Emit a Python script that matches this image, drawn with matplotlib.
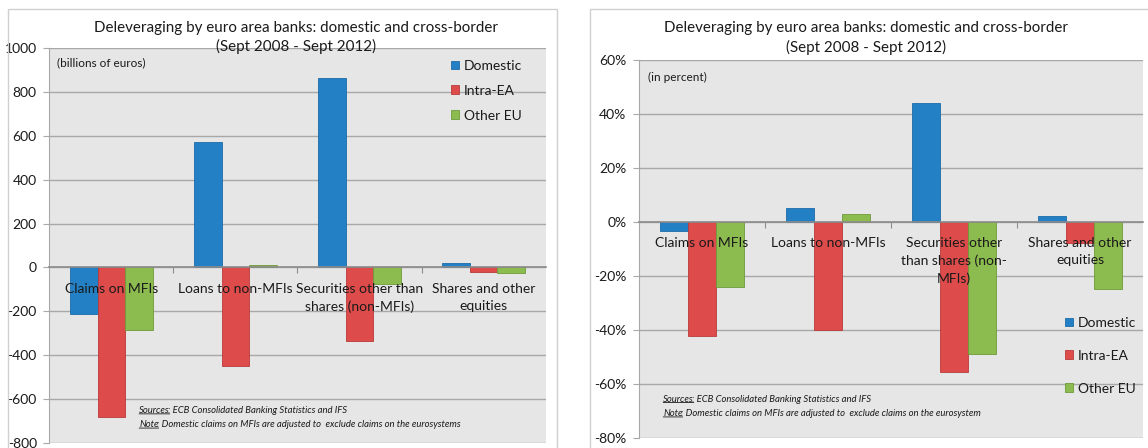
import matplotlib.pyplot as plt
import numpy as np
from matplotlib.patches import Rectangle
from matplotlib.ticker import FuncFormatter

plt.rcParams["font.family"] = ["Lato", "DejaVu Sans"]

# Deleveraging by euro area banks, Sept 2008 - Sept 2012
categories_bn = ["Claims on MFIs", "Loans to non-MFIs",
                 "Securities other than\nshares (non-MFIs)", "Shares and other\nequities"]
categories_pct = ["Claims on MFIs", "Loans to non-MFIs",
                  "Securities other\nthan shares (non-\nMFIs)", "Shares and other\nequities"]
series_names = ["Domestic", "Intra-EA", "Other EU"]

# billions of euros
domestic_bn = [-210, 570, 865, 20]
intra_ea_bn = [-680, -450, -335, -20]
other_eu_bn = [-285, 12, -75, -25]

# in percent
domestic_pct = [-3.3, 5, 44, 2]
intra_ea_pct = [-42.3, -40, -55.5, -8]
other_eu_pct = [-24, 3, -49, -25]

title = "Deleveraging by euro area banks: domestic and cross-border\n(Sept 2008 - Sept 2012)"
sources = ": ECB Consolidated Banking Statistics and IFS"
note_bn = ": Domestic claims on MFIs are adjusted to  exclude claims on the eurosystems"
note_pct = ": Domestic claims on MFIs are adjusted to  exclude claims on the eurosystem"

face_colors = ["#2480C4", "#DE4B4B", "#8CBB4F"]
edge_colors = ["#1C6BA8", "#B83A3A", "#6E9A3A"]
grid_color = "#A8A8A8"
text_color = "#1A1A1A"


def note_line(ax, x, y, head, rest):
    # underlined italic head word followed by plain italic text
    t = ax.text(x, y, head, transform=ax.transAxes, fontsize=6.8, style="italic",
                va="center", color=text_color)
    ax.annotate(rest, xy=(1, 0), xycoords=t, xytext=(-1.2, 0), textcoords="offset points",
                va="bottom", ha="left", fontsize=6.8, style="italic", color=text_color)
    ax.annotate("", xy=(0, 0.14), xycoords=t, xytext=(1, 0.14), textcoords=t,
                arrowprops=dict(arrowstyle="-", lw=0.6, color=text_color,
                                shrinkA=0, shrinkB=0))


def draw_panel(ax, cats, series, ylim, step, fmt, unit_label, unit_xy,
               label_offset, label_spacing):
    x = np.arange(len(cats))
    width = 0.222
    for k, vals in enumerate(series):
        ax.bar(x + (k - 1) * width, vals, width, color=face_colors[k],
               edgecolor=edge_colors[k], linewidth=0.6, label=series_names[k], zorder=3)

    ax.set_facecolor("#E6E6E6")
    ax.set_xlim(-0.5, len(cats) - 0.5)
    ax.set_ylim(*ylim)
    ax.set_yticks(np.arange(ylim[0], ylim[1] + step / 2, step))
    ax.yaxis.set_major_formatter(FuncFormatter(fmt))
    ax.grid(axis="y", color=grid_color, lw=1.0, zorder=0)
    ax.set_axisbelow(True)

    for side in ["top", "right"]:
        ax.spines[side].set_visible(False)
    ax.spines["left"].set_color(grid_color)
    ax.spines["bottom"].set_position(("data", 0))
    ax.spines["bottom"].set_color("#8C8C8C")
    ax.spines["bottom"].set_linewidth(1.2)
    ax.spines["bottom"].set_zorder(4)

    ax.set_xticks(x[:-1] + 0.5)
    ax.set_xticklabels([])
    ax.tick_params(axis="x", direction="out", length=4, color="#8C8C8C")
    ax.tick_params(axis="y", direction="out", length=4, color=grid_color,
                   labelsize=10, labelcolor=text_color, pad=5)

    for i, cat in enumerate(cats):
        ax.annotate(cat, xy=(i, 0), xytext=(0, -label_offset), textcoords="offset points",
                    ha="center", va="top", fontsize=10, color=text_color,
                    linespacing=label_spacing, zorder=5)

    ax.text(unit_xy[0], unit_xy[1], unit_label, transform=ax.transAxes,
            fontsize=8.5, va="center", color=text_color)


fig = plt.figure(figsize=(11.48, 4.48), dpi=100)

# panel frames
fig.patches.append(Rectangle((7.5 / 1148, -0.1), (557 - 7.5) / 1148, 1.1 - 9 / 448,
                             transform=fig.transFigure, fill=False,
                             edgecolor="#D0D0D0", lw=1.0))
fig.patches.append(Rectangle((589.6 / 1148, -0.1), 0.6, 1.1 - 9 / 448,
                             transform=fig.transFigure, fill=False,
                             edgecolor="#D0D0D0", lw=1.0))

ax1 = fig.add_axes([0.04294, 0.01116, 0.4323, 0.8817])
draw_panel(ax1, categories_bn, [domestic_bn, intra_ea_bn, other_eu_bn],
           (-800, 1000), 200, lambda v, p: f"{v:.0f}",
           "(billions of euros)", (0.016, 0.962), 11, 1.55)
ax1.legend(loc="upper left", bbox_to_anchor=(444 / 1148, 1 - 53 / 448),
           bbox_transform=fig.transFigure, frameon=False, borderpad=0,
           handlelength=0.6, handleheight=0.6, handletextpad=0.35,
           labelspacing=0.92, fontsize=10, labelcolor=text_color)
note_line(ax1, 0.181, 0.082, "Sources", sources)
note_line(ax1, 0.181, 0.046, "Note", note_bn)
fig.text(295.5 / 1148, 1 - 37.5 / 448, title, ha="center", va="center",
         fontsize=10.9, color=text_color, linespacing=1.35)

ax2 = fig.add_axes([0.5566, 0.0230, 0.4390, 0.8437])
draw_panel(ax2, categories_pct, [domestic_pct, intra_ea_pct, other_eu_pct],
           (-80, 60), 20, lambda v, p: f"{v:.0f}%",
           "(in percent)", (0.017, 0.952), 11.3, 1.5)
ax2.legend(loc="upper left", bbox_to_anchor=(1058 / 1148, 1 - 310 / 448),
           bbox_transform=fig.transFigure, frameon=False, borderpad=0,
           handlelength=0.6, handleheight=0.6, handletextpad=0.35,
           labelspacing=1.5, fontsize=10, labelcolor=text_color)
note_line(ax2, 0.048, 0.1016, "Sources", sources)
note_line(ax2, 0.048, 0.0635, "Note", note_pct)
fig.text(865.5 / 1148, 1 - 38 / 448, title, ha="center", va="center",
         fontsize=10.9, color=text_color, linespacing=1.35)

fig.savefig("out.png", dpi=100)
